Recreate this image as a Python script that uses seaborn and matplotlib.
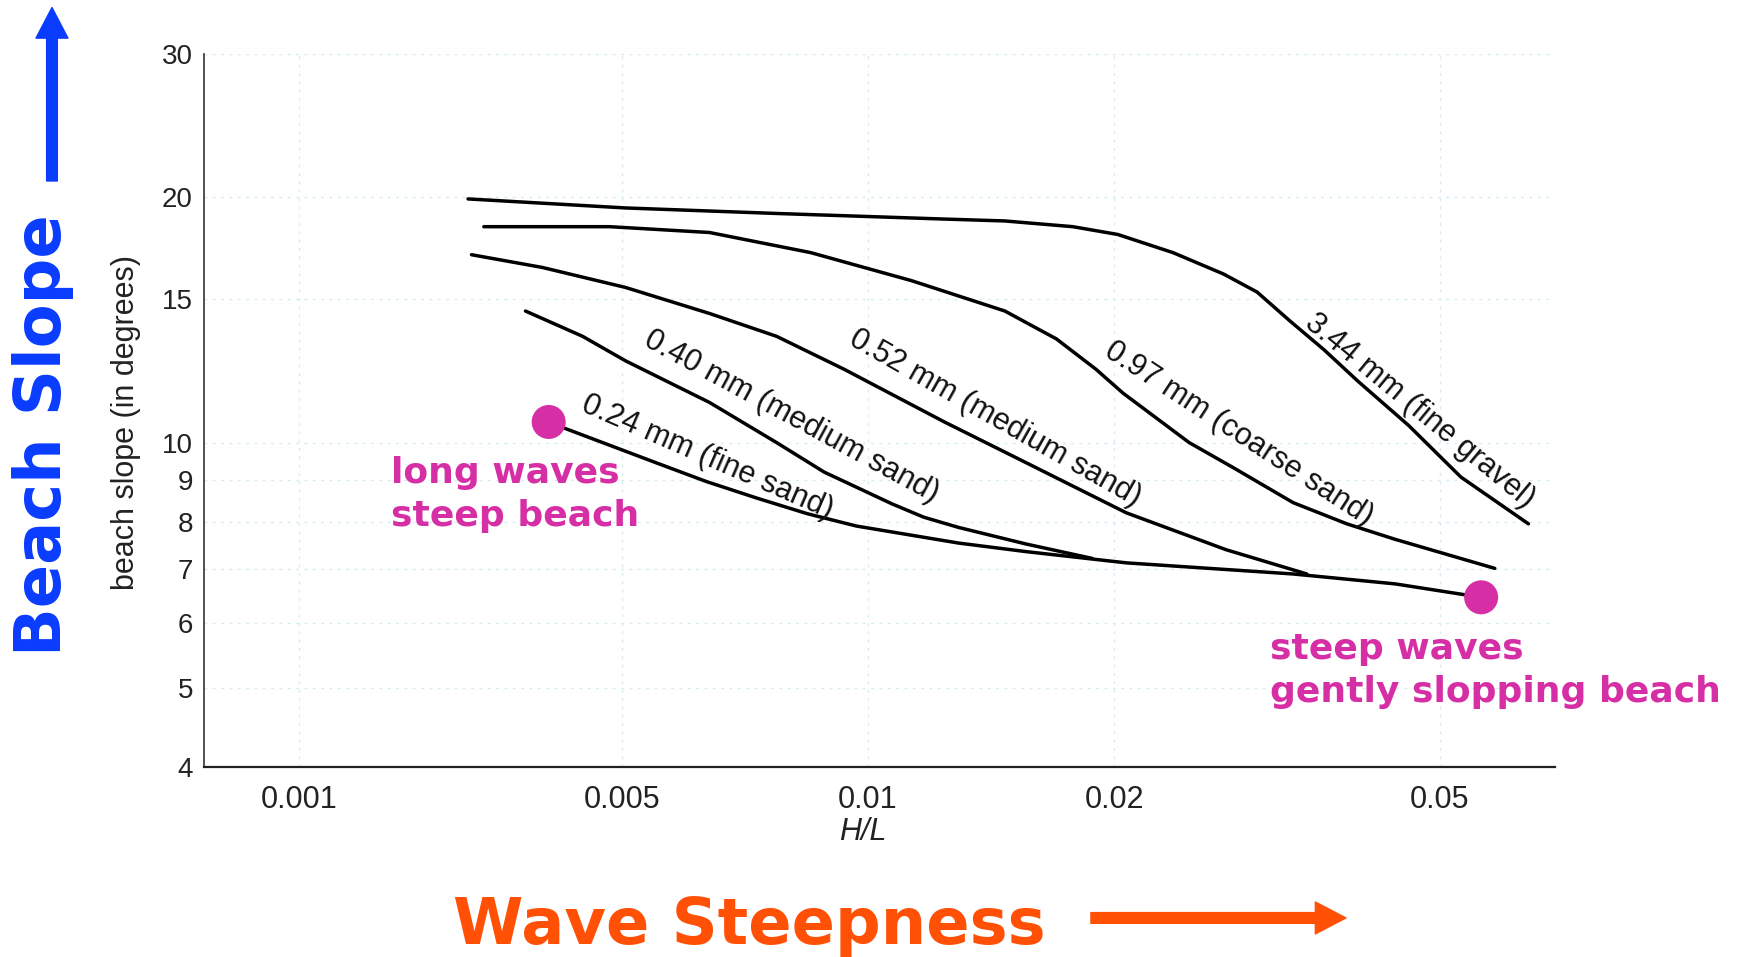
import numpy as np
import pandas as pd
import matplotlib
matplotlib.use("Agg")
import matplotlib.pyplot as plt
import seaborn as sns

# valores (H/L, pendiente en grados)
hl_344 = [0.00232, 0.00505, 0.00773, 0.0124, 0.0147, 0.0178, 0.0202, 0.0236, 0.0272, 0.0299,
          0.0328, 0.0361, 0.0397, 0.0458, 0.0531, 0.0642]
slope_344 = [19.9, 19.4, 19.1, 18.8, 18.7, 18.4, 18.0, 17.1, 16.1, 15.3,
             14.1, 13.0, 11.9, 10.5, 9.07, 7.95]

hl_097 = [0.00251, 0.00470, 0.00640, 0.00851, 0.0113, 0.0147, 0.0170, 0.0190, 0.0205,
          0.0247, 0.0280, 0.0331, 0.0385, 0.0441, 0.0584]
slope_097 = [18.4, 18.4, 18.1, 17.1, 15.8, 14.5, 13.4, 12.3, 11.5,
             10.0, 9.31, 8.44, 7.95, 7.61, 7.01]

hl_052 = [0.00236, 0.00336, 0.00505, 0.00640, 0.00773, 0.00935, 0.0124, 0.0156, 0.0207, 0.0274, 0.0344]
slope_052 = [17.0, 16.4, 15.5, 14.4, 13.5, 12.3, 10.6, 9.45, 8.2, 7.39, 6.9]

hl_040 = [0.00309, 0.00411, 0.00505, 0.00640, 0.00773, 0.00884, 0.0107, 0.0117, 0.0129, 0.0156, 0.0188]
slope_040 = [14.5, 13.5, 12.6, 11.2, 10.0, 9.2, 8.41, 8.10, 7.87, 7.51, 7.21]

hl_024 = [0.00347, 0.00378, 0.00550, 0.00634, 0.00731, 0.00843, 0.00968, 0.0129, 0.0156, 0.0207,
          0.0331, 0.0441, 0.0562]
slope_024 = [10.6, 10.4, 9.45, 8.96, 8.55, 8.18, 7.90, 7.53, 7.35, 7.12,
             6.90, 6.71, 6.46]

grain_labels = ["3.44 mm (fine gravel)", "0.97 mm (coarse sand)", "0.52 mm (medium sand)",
                "0.40 mm (medium sand)", "0.24 mm (fine sand)"]

dot_hl = [0.00347, 0.0562]
dot_slope = [10.6, 6.46]

x_ticks = [0.001, 0.005, 0.01, 0.02, 0.05]
x_ticklabels = ["0.001", "0.005", "0.01", "0.02", "0.05"]
y_ticks = [4, 5, 6, 7, 8, 9, 10, 15, 20, 30]
y_ticklabels = ["4", "5", "6", "7", "8", "9", "10", "15", "20", "30"]

MAGENTA = "#D62FA5"
BLUE = "#0A3CFF"
ORANGE = "#FF5005"

df = pd.concat([
    pd.DataFrame({"HL": hl_344, "slope": slope_344, "grain": grain_labels[0]}),
    pd.DataFrame({"HL": hl_097, "slope": slope_097, "grain": grain_labels[1]}),
    pd.DataFrame({"HL": hl_052, "slope": slope_052, "grain": grain_labels[2]}),
    pd.DataFrame({"HL": hl_040, "slope": slope_040, "grain": grain_labels[3]}),
    pd.DataFrame({"HL": hl_024, "slope": slope_024, "grain": grain_labels[4]}),
], ignore_index=True)

sns.set_theme(style="white")
plt.rcParams["font.family"] = ["Liberation Sans", "DejaVu Sans"]

# eje x del libro: logaritmico, pero comprimido por debajo de 0.005
L5 = np.log10(0.005)
K = 0.564


def fwd(x):
    with np.errstate(all="ignore"):
        lx = np.log10(np.clip(np.asarray(x, float), 1e-9, None))
        return np.where(lx >= L5, lx, L5 - (L5 - lx) * K)


def inv(u):
    with np.errstate(all="ignore"):
        u = np.asarray(u, float)
        return np.where(u >= L5, 10.0 ** u, 10.0 ** (L5 - (L5 - u) / K))


fig = plt.figure(figsize=(17.5, 9.57), dpi=100)
ax = fig.add_axes([0.1166, 0.1985, 0.772, 0.7455])

sns.lineplot(data=df, x="HL", y="slope", hue="grain", palette=["black"] * 5,
             sort=False, estimator=None, legend=False, lw=2.5, ax=ax, zorder=3)
for line in ax.get_lines():
    line.set_solid_joinstyle("round")
sns.scatterplot(x=dot_hl, y=dot_slope, s=600, color=MAGENTA, edgecolor="none",
                zorder=5, ax=ax)

ax.set_xscale("function", functions=(fwd, inv))
ax.set_yscale("log")
ax.set_xlim(0.000621, 0.0692)
ax.set_ylim(4, 30)
ax.set_xticks(x_ticks)
ax.set_xticklabels(x_ticklabels)
ax.set_yticks(y_ticks)
ax.set_yticklabels(y_ticklabels)
ax.xaxis.set_minor_locator(matplotlib.ticker.NullLocator())
ax.yaxis.set_minor_locator(matplotlib.ticker.NullLocator())
ax.tick_params(axis="x", length=0, pad=13, labelsize=22, colors="#222222")
ax.tick_params(axis="y", length=0, pad=8, labelsize=20, colors="#222222")
ax.grid(True, color="#d6ecf4", lw=1.0, ls=(0, (2, 4)))
for s in ["top", "right"]:
    ax.spines[s].set_visible(False)
ax.spines["left"].set_color("#333333")
ax.spines["left"].set_linewidth(1.2)
ax.spines["bottom"].set_color("#222222")
ax.spines["bottom"].set_linewidth(1.6)

ax.set_xlabel("H/L", fontsize=22, style="italic", color="#222222")
ax.xaxis.set_label_coords(0.4878, -0.0705)
ax.set_ylabel("beach slope (in degrees)", fontsize=22, color="#222222")
ax.yaxis.set_label_coords(-0.0466, 0.4836)

# etiquetas sobre cada curva
lbl_x = [0.04722, 0.02838, 0.01429, 0.00806, 0.006359]
lbl_y = [10.93, 10.26, 10.72, 10.75, 9.60]
lbl_rot = [-39.5, -33, -29.5, -28.5, -23.5]
for t, x, y, r in zip(grain_labels, lbl_x, lbl_y, lbl_rot):
    ax.text(x, y, t, rotation=r, rotation_mode="anchor", ha="center", va="center",
            fontsize=22, color="#111111", zorder=4)

# anotaciones de color
fig.text(0.2234, 0.4833, "long waves\nsteep beach", ha="left", va="center",
         fontsize=26, fontweight="bold", color=MAGENTA, family=["DejaVu Sans"],
         linespacing=1.32)
fig.text(0.7257, 0.2994, "steep waves\ngently slopping beach", ha="left", va="center",
         fontsize=26, fontweight="bold", color=MAGENTA, family=["DejaVu Sans"],
         linespacing=1.32)
fig.text(0.0246, 0.5449, "Beach Slope", rotation=90, ha="center", va="center",
         fontsize=46, fontweight="bold", color=BLUE, family=["DejaVu Sans"])
fig.text(0.4283, 0.0136, "Wave Steepness", ha="center", va="baseline",
         fontsize=46, fontweight="bold", color=ORANGE, family=["DejaVu Sans"])

ax.annotate("", xy=(0.0297, 0.9921), xycoords="figure fraction",
            xytext=(0.0297, 0.8109), textcoords="figure fraction",
            arrowprops=dict(width=7.7, headwidth=23, headlength=22, color=BLUE, shrink=0),
            annotation_clip=False)
ax.annotate("", xy=(0.7691, 0.0408), xycoords="figure fraction",
            xytext=(0.6234, 0.0408), textcoords="figure fraction",
            arrowprops=dict(width=7.7, headwidth=23, headlength=22, color=ORANGE, shrink=0),
            annotation_clip=False)

plt.savefig("out.png", dpi=100)
